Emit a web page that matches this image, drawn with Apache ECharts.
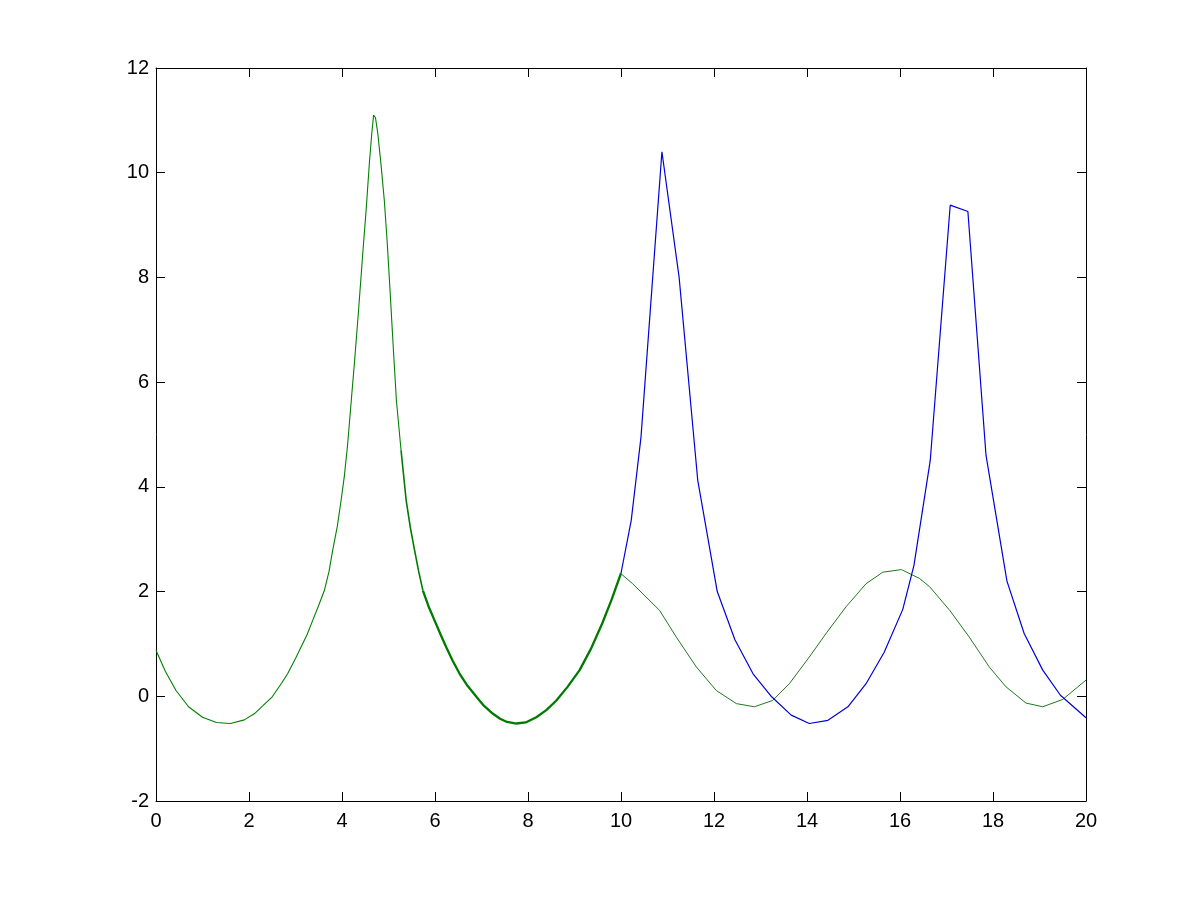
<!DOCTYPE html>
<html>
<head>
<meta charset="utf-8">
<title>plot</title>
<script src="https://cdn.jsdelivr.net/npm/echarts@6/dist/echarts.min.js"></script>
<style>
  html, body { margin: 0; padding: 0; background: #fff; }
  #chart { width: 1200px; height: 900px; }
</style>
</head>
<body>
<div id="chart"></div>
<script>
// first green run, 0..5.3 (clean part)
const greenAx = [0, 0.2, 0.43, 0.7, 1.0, 1.3, 1.6, 1.9, 2.12, 2.3, 2.5, 2.7, 2.83, 3.0, 3.12, 3.25, 3.37, 3.5, 3.62, 3.72, 3.8, 3.9, 3.98, 4.05, 4.12, 4.19, 4.27, 4.35, 4.45, 4.52, 4.59, 4.64, 4.68, 4.72, 4.77, 4.84, 4.91, 4.97, 5.03, 5.1, 5.17, 5.27]
const greenAy = [0.88, 0.48, 0.11, -0.2, -0.4, -0.5, -0.52, -0.45, -0.33, -0.18, -0.01, 0.25, 0.43, 0.72, 0.94, 1.18, 1.45, 1.74, 2.02, 2.38, 2.79, 3.25, 3.74, 4.2, 4.8, 5.55, 6.4, 7.3, 8.5, 9.3, 10.2, 10.75, 11.1, 11.05, 10.75, 10.15, 9.47, 8.7, 7.8, 6.7, 5.65, 4.7]

// noisy (thicker) green part, starts thin-ish then thickens
const greenBx = [5.27, 5.38, 5.47, 5.56, 5.65, 5.74]
const greenBy = [4.7, 3.74, 3.22, 2.79, 2.38, 2.02]
const greenCx = [5.74, 5.86, 5.99, 6.12, 6.24, 6.38, 6.53, 6.7, 6.89, 7.05, 7.24, 7.4, 7.55, 7.75, 7.95, 8.18, 8.4, 8.61, 8.85, 9.11, 9.35, 9.6, 9.8, 10.0]
const greenCy = [2.02, 1.72, 1.45, 1.18, 0.94, 0.68, 0.43, 0.2, -0.01, -0.18, -0.33, -0.43, -0.49, -0.52, -0.50, -0.40, -0.26, -0.08, 0.18, 0.50, 0.90, 1.40, 1.85, 2.35]

// coarse green, 10..20
const greenDx = [10.0, 10.25, 10.83, 11.19, 11.62, 12.05, 12.48, 12.87, 13.26, 13.62, 14.05, 14.41, 14.84, 15.27, 15.63, 16.03, 16.42, 16.64, 17.07, 17.49, 17.92, 18.28, 18.71, 19.07, 19.5, 20.0]
const greenDy = [2.34, 2.15, 1.64, 1.13, 0.56, 0.11, -0.14, -0.20, -0.08, 0.24, 0.75, 1.20, 1.71, 2.15, 2.37, 2.42, 2.25, 2.09, 1.64, 1.13, 0.56, 0.18, -0.13, -0.20, -0.06, 0.31]

// blue, 10..20
const blueX = [10.0, 10.22, 10.43, 10.88, 11.25, 11.65, 12.07, 12.45, 12.84, 13.24, 13.66, 14.05, 14.45, 14.88, 15.27, 15.66, 16.06, 16.3, 16.65, 17.08, 17.46, 17.85, 18.3, 18.67, 19.07, 19.45, 20.0]
const blueY = [2.35, 3.36, 4.95, 10.4, 8.0, 4.13, 2.0, 1.08, 0.43, -0.01, -0.36, -0.52, -0.46, -0.20, 0.24, 0.84, 1.66, 2.5, 4.5, 9.38, 9.26, 4.6, 2.2, 1.2, 0.5, 0.02, -0.41]

const xTicks = { min: 0, max: 20, interval: 2 }
const yTicks = { min: -2, max: 12, interval: 2 }

const pairs = (xs, ys) => xs.map((x, i) => [x, ys[i]])

const chart = echarts.init(document.getElementById('chart'))

const labelFont = {
  color: '#000',
  fontFamily: 'Liberation Sans, Arial, sans-serif',
  fontSize: 20
}

const boxAxis = (extra) => Object.assign({
  type: 'value',
  splitLine: { show: false },
  axisLine: { show: true, onZero: false, lineStyle: { color: '#000', width: 1 } },
  axisTick: { show: true, inside: true, length: 9, lineStyle: { color: '#000' } }
}, extra)

const line = (name, data, color, width) => ({
  name,
  type: 'line',
  data,
  symbol: 'none',
  smooth: false,
  lineStyle: { color, width },
  itemStyle: { color },
  emphasis: { disabled: true }
})

chart.setOption({
  animation: false,
  backgroundColor: '#fff',
  grid: { left: 156, top: 68, right: 114, bottom: 99, containLabel: false },
  xAxis: [
    boxAxis(Object.assign({ position: 'bottom', axisLabel: Object.assign({ margin: 10 }, labelFont) }, xTicks)),
    boxAxis(Object.assign({ position: 'top', axisLabel: { show: false } }, xTicks))
  ],
  yAxis: [
    boxAxis(Object.assign({ position: 'left', axisLabel: Object.assign({ margin: 7 }, labelFont) }, yTicks)),
    boxAxis(Object.assign({ position: 'right', axisLabel: { show: false } }, yTicks))
  ],
  series: [
    line('green1', pairs(greenAx, greenAy), '#008000', 1.1),
    line('green2', pairs(greenBx, greenBy), '#007a00', 1.6),
    line('green3', pairs(greenCx, greenCy), '#007a00', 2.3),
    line('green4', pairs(greenDx, greenDy), '#1f7a1f', 1),
    line('blue', pairs(blueX, blueY), '#0000d8', 1.2)
  ]
})
</script>
</body>
</html>
